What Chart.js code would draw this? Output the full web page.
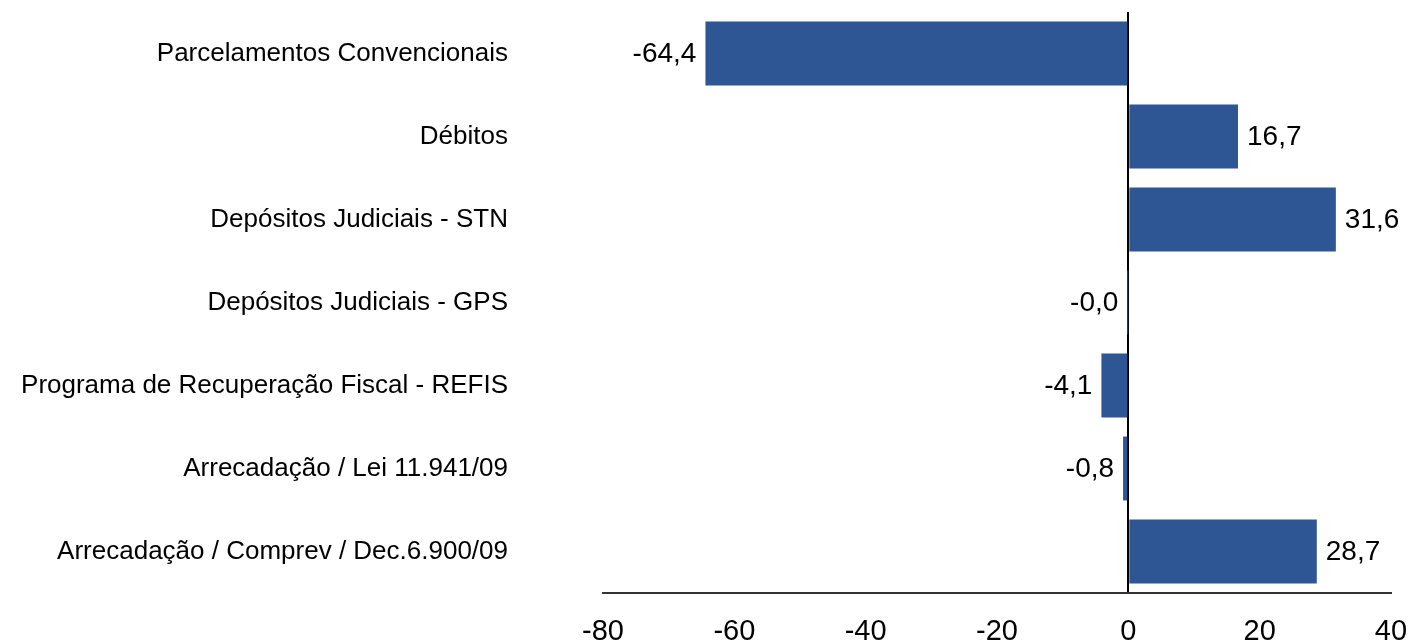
<!DOCTYPE html>
<html lang="pt">
<head>
  <meta charset="UTF-8">
  <title>Variação por item</title>
  <script src="https://cdn.jsdelivr.net/npm/chart.js"></script>
  <style>
    * { margin: 0; padding: 0; box-sizing: border-box; }
    body { background: #fff; width: 1409px; height: 643px; overflow: hidden; }
    canvas { display: block; }
  </style>
</head>
<body>
  <canvas id="chart" width="1409" height="643"></canvas>

  <script>
    const categories = [
      "Parcelamentos Convencionais",
      "Débitos",
      "Depósitos Judiciais - STN",
      "Depósitos Judiciais - GPS",
      "Programa de Recuperação Fiscal - REFIS",
      "Arrecadação / Lei 11.941/09",
      "Arrecadação / Comprev / Dec.6.900/09"
    ];
    const values = [-64.4, 16.7, 31.6, -0.02, -4.1, -0.8, 28.7];
    const xTicks = [-80, -60, -40, -20, 0, 20, 40];

    const FONT = "'Liberation Sans', Arial, sans-serif";
    const fmt = v => v.toFixed(1).replace(".", ",");

    // value labels beside each bar end
    const barLabels = {
      id: "barLabels",
      afterDatasetsDraw(chart) {
        const ctx = chart.ctx;
        const meta = chart.getDatasetMeta(0);
        ctx.save();
        ctx.font = "28px " + FONT;
        ctx.fillStyle = "#000";
        ctx.textBaseline = "middle";
        meta.data.forEach((bar, i) => {
          const v = values[i];
          if (v < 0) {
            ctx.textAlign = "right";
            ctx.fillText(fmt(v), Math.min(bar.x, bar.base) - 9, bar.y + 1);
          } else {
            ctx.textAlign = "left";
            ctx.fillText(fmt(v), Math.max(bar.x, bar.base) + 9, bar.y + 1);
          }
        });
        ctx.restore();
      }
    };

    new Chart(document.getElementById("chart"), {
      type: "bar",
      data: {
        labels: categories,
        datasets: [{
          data: values,
          backgroundColor: "#2E5594",
          borderWidth: 0,
          barPercentage: 0.77,
          categoryPercentage: 1
        }]
      },
      options: {
        indexAxis: "y",
        responsive: false,
        animation: false,
        layout: { padding: { top: 12, right: 18, left: 0, bottom: 0 } },
        plugins: { legend: { display: false }, tooltip: { enabled: false } },
        scales: {
          x: {
            min: -80,
            max: 40,
            afterBuildTicks: s => { s.ticks = xTicks.map(v => ({ value: v })); },
            afterFit: s => {
              s.height = 50;
              s.paddingLeft = 0;
              s.paddingRight = 0;
            },
            ticks: {
              color: "#000",
              font: { family: FONT, size: 29 },
              padding: 22,
              maxRotation: 0
            },
            grid: {
              drawTicks: false,
              color: c => (c.tick && c.tick.value === 0 ? "#000" : "rgba(0,0,0,0)"),
              lineWidth: 2
            },
            border: { display: true, color: "#333", width: 2 }
          },
          y: {
            afterFit: s => {
              s.width = 603;
              s.paddingTop = 0;
              s.paddingBottom = 0;
            },
            ticks: {
              color: "#000",
              font: { family: FONT, size: 26 },
              padding: 87
            },
            grid: { display: false },
            border: { display: false }
          }
        }
      },
      plugins: [barLabels]
    });
  </script>
</body>
</html>
